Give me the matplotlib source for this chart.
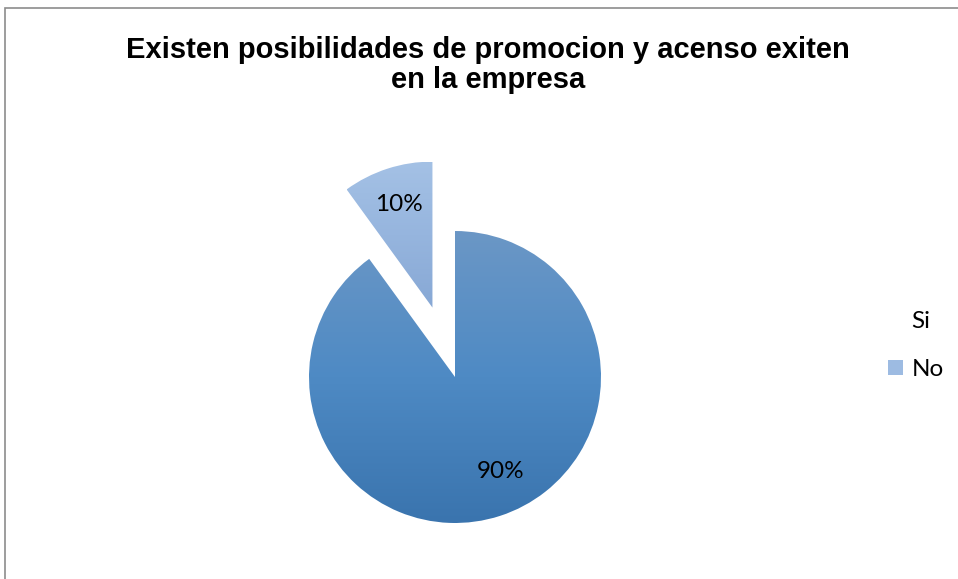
import numpy as np
import matplotlib
matplotlib.use("Agg")
import matplotlib.pyplot as plt
from matplotlib.patches import Patch, Rectangle
from matplotlib.colors import LinearSegmentedColormap

title = "Existen posibilidades de promocion y acenso exiten\nen la empresa"
labels = ["Si", "No"]
values = [90, 10]
explode = [0.0, 0.5]
# top / middle / bottom shades of each slice
slice_shades = [["#3a74ae", "#4e8ac4", "#6b97c6"],
                ["#87a8d5", "#96b5de", "#a4c1e5"]]
legend_colors = ["none", "#9dbbe2"]

W, H = 958, 579
fig = plt.figure(figsize=(W / 100, H / 100), dpi=100)

# radius 146 px, centre at (455, 377) px from top-left
r_px = 146
cx, cy = 455, H - 377
xl, xr, yb, yt = -1.6, 1.6, -1.3, 1.6
ax = fig.add_axes([(cx + xl * r_px) / W, (cy + yb * r_px) / H,
                   (xr - xl) * r_px / W, (yt - yb) * r_px / H])

wedges, texts, autotexts = ax.pie(
    values, explode=explode, startangle=90, counterclock=False,
    autopct="%1.0f%%", pctdistance=0.74,
    textprops=dict(fontsize=17.5, family="Lato", color="black"))
ax.set_xlim(xl, xr)
ax.set_ylim(yb, yt)
ax.set_aspect("equal")

# vertical gradient fill clipped to each wedge
for w, shades in zip(wedges, slice_shades):
    ext = w.get_path().get_extents()
    cmap = LinearSegmentedColormap.from_list("g", shades)
    grad = np.linspace(0, 1, 256).reshape(-1, 1)
    im = ax.imshow(grad, cmap=cmap, origin="lower", aspect="auto",
                   extent=[ext.x0, ext.x1, ext.y0, ext.y1], zorder=1)
    im.set_clip_path(w)
    w.set_facecolor("none")
    w.set_zorder(0)
ax.set_xlim(xl, xr)
ax.set_ylim(yb, yt)
ax.axis("off")

for t in autotexts:
    t.set_zorder(3)
autotexts[0].set_position((0.31, -0.65))

fig.text(488 / W, 1 - 65 / H, title, ha="center", va="center",
         fontsize=21, fontweight="bold", family="Liberation Sans",
         linespacing=1.1)

handles = [Patch(facecolor=c, edgecolor="none") for c in legend_colors]
fig.legend(handles, labels, loc="center left",
           bbox_to_anchor=(888 / W, 1 - 345.5 / H), frameon=False,
           prop=dict(family="Lato", size=17.5), handlelength=0.62,
           handleheight=0.55, handletextpad=0.34, labelspacing=1.12,
           borderpad=0, borderaxespad=0)

# chart area border
fig.add_artist(Rectangle((5 / W, -0.1), 1.2, 1.1 - 8 / H,
                         transform=fig.transFigure, fill=False,
                         edgecolor="#8c8c8c", linewidth=1.2))

fig.savefig("out.png", dpi=100)
